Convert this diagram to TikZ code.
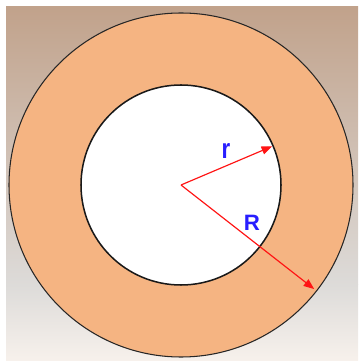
\documentclass[tikz,border=0pt]{standalone}
\usepackage{fontspec}
\setsansfont{Liberation Sans}
\usepackage{xcolor}
\usetikzlibrary{arrows.meta, calc}

\definecolor{bgtop}{RGB}{193,162,139}
\definecolor{bgmid}{RGB}{221,219,217}
\definecolor{bglow}{RGB}{247,241,236}
\definecolor{ringfill}{RGB}{245,180,130}
\definecolor{arrowred}{RGB}{255,20,20}
\definecolor{labelblue}{RGB}{40,30,255}

\begin{document}
\begin{tikzpicture}[
        x=0.03cm, y=0.03cm,
        >={Triangle[length=9pt, width=7pt]},
        radius/.style={draw=arrowred, line width=1pt, ->},
        radlabel/.style={text=labelblue, font=\sffamily\bfseries\fontsize{19}{20}\selectfont, inner sep=0pt}
    ]

    % 1. Nen chuyen mau
    \useasboundingbox (0,0) rectangle (358,361);
    \shade[top color=bgtop, bottom color=bgmid] (6,76) rectangle (358,354);
    \shade[top color=bgmid, bottom color=bglow] (6,0) rectangle (358,76);

    % 2. Vanh tron
    \coordinate (O) at (181,176);
    \fill[ringfill] (O) circle (172);
    \fill[white] (O) circle (100);
    \draw[black!85, line width=0.9pt] (O) circle (172);
    \draw[black!90, line width=1.3pt] (O) circle (100);

    % 3. Ban kinh r va R
    \coordinate (rEnd) at ($(O)+(23:99)$);
    \coordinate (REnd) at ($(O)+(-38:169)$);
    \draw[radius] (O) -- (rEnd);
    \draw[radius] (O) -- (REnd);

    \node[radlabel, yscale=1.25] (rlab) at (226,210) {r};
    \node[radlabel] (Rlab) at (252,138) {R};

\end{tikzpicture}
\end{document}
